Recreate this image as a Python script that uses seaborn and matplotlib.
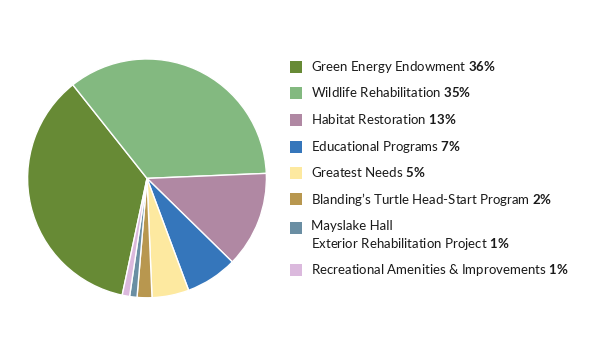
import matplotlib
matplotlib.use("Agg")
import matplotlib.pyplot as plt
import seaborn as sns
from matplotlib.patches import Rectangle

sns.set_theme(style="white")
plt.rcParams['font.family'] = ['Lato', 'DejaVu Sans']
plt.rcParams['mathtext.fontset'] = 'custom'
plt.rcParams['mathtext.bf'] = 'Lato:bold'
plt.rcParams['mathtext.rm'] = 'Lato'

# data
funds = ["Green Energy Endowment", "Wildlife Rehabilitation", "Habitat Restoration",
         "Educational Programs", "Greatest Needs", "Blanding\u2019s Turtle Head-Start Program",
         "Mayslake Hall\nExterior Rehabilitation Project", "Recreational Amenities & Improvements"]
shares = [36, 35, 13, 7, 5, 2, 1, 1]
colors = ["#678a35", "#83b980", "#b088a3", "#3576bb", "#fde9a0", "#b8974f", "#6a8ea3", "#dbb9dd"]

fig = plt.figure(figsize=(6, 3.6), dpi=100)
ax = fig.add_axes([0.045, 0.171, 0.4, 0.667])
ax.pie(shares, colors=colors, startangle=258, counterclock=False,
       wedgeprops=dict(edgecolor="white", linewidth=1))
ax.set_xlim(-1.005, 1.005)
ax.set_ylim(-1.005, 1.005)
ax.set_aspect("equal")

# legend drawn by hand so the square sits on the first line
row_y = [67, 93, 120, 147, 173, 199, 228, 270]
for name, val, c, y in zip(funds, shares, colors, row_y):
    fy = 1 - y / 360
    fig.patches.append(Rectangle((290 / 600, fy - 6 / 360), 12 / 600, 12 / 360,
                                 transform=fig.transFigure, facecolor=c, edgecolor="none"))
    label = name + " $\\bf{" + str(val) + "\\%}$"
    fig.text(311 / 600, fy + 8 / 360, label, fontsize=9.5, color="#1a1a1a",
             ha="left", va="top", linespacing=1.35)

fig.savefig("out.png", dpi=100)
